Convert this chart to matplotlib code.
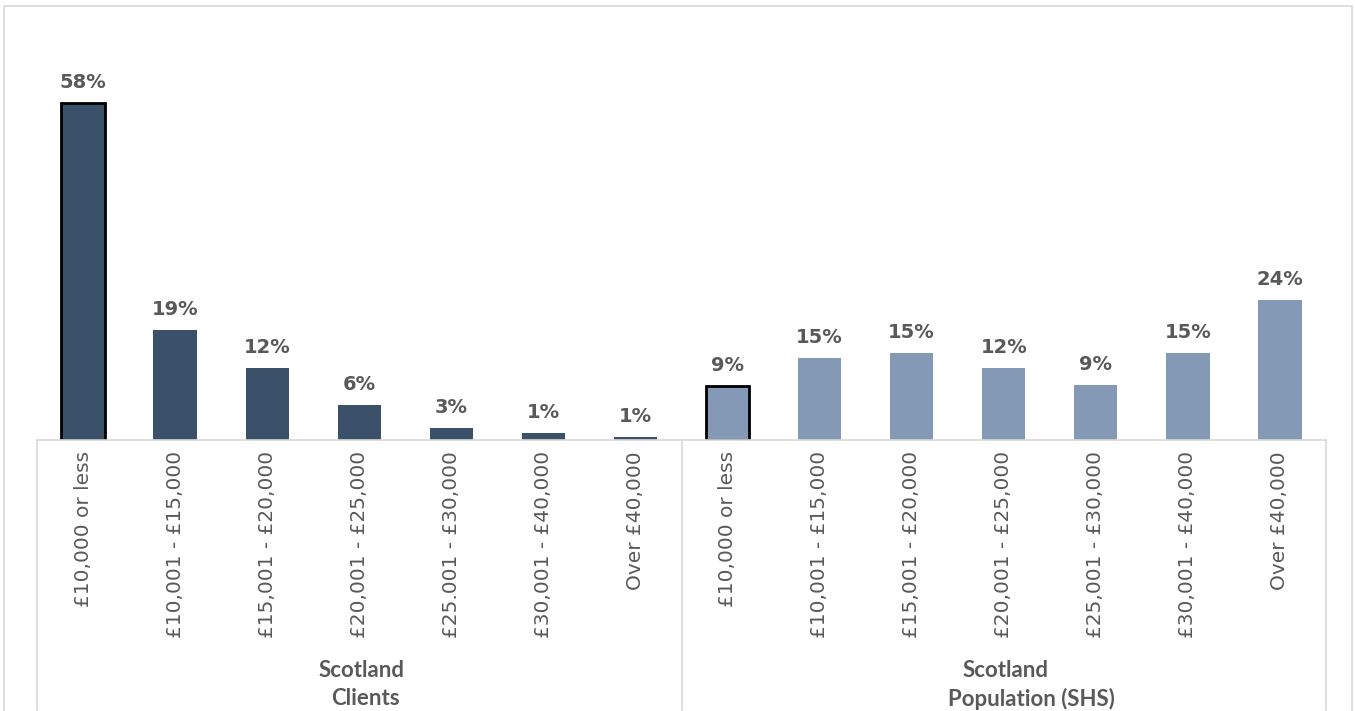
import matplotlib
matplotlib.use("Agg")
import matplotlib.pyplot as plt
from matplotlib.patches import Rectangle
from matplotlib.transforms import offset_copy

# Faixas de renda
faixas = ["£10,000 or less", "£10,001 - £15,000", "£15,001 - £20,000",
          "£20,001 - £25,000", "£25.001 - £30,000", "£30,001 - £40,000",
          "Over £40,000"]
faixas_pop = ["£10,000 or less", "£10,001 - £15,000", "£15,001 - £20,000",
              "£20,001 - £25,000", "£25,001 - £30,000", "£30,001 - £40,000",
              "Over £40,000"]

# Valores (%)
clientes = [58, 18.9, 12.4, 6.0, 2.1, 1.2, 0.5]
populacao = [9.3, 14.1, 15.0, 12.4, 9.5, 15.0, 24.1]
rotulos_clientes = ["58%", "19%", "12%", "6%", "3%", "1%", "1%"]
rotulos_populacao = ["9%", "15%", "15%", "12%", "9%", "15%", "24%"]
grupos = [("Scotland", "Clients"), ("Scotland", "Population (SHS)")]

COR_ESCURA = "#3b5069"
COR_CLARA = "#8399b6"
COR_TEXTO = "#595959"
FONTE = ["Lato", "DejaVu Sans"]
FONTE_EIXO = ["DejaVu Sans"]

W, H = 1355, 711
fig = plt.figure(figsize=(W / 100, H / 100), dpi=100)

# borda cinza clara do gráfico
fig.patches.append(Rectangle((4 / W, -0.01), 1348 / W, 1 - 6 / H + 0.01,
                             transform=fig.transFigure, fill=False,
                             edgecolor="#d9d9d9", linewidth=1.2))

base_y = 440
top_y = 62
ax = fig.add_axes([37 / W, 1 - base_y / H, (1326 - 37) / W, (base_y - top_y) / H])

n = len(faixas)
valores = clientes + populacao
rotulos = rotulos_clientes + rotulos_populacao
cores = [COR_ESCURA] * n + [COR_CLARA] * n
xs = list(range(2 * n))

barras = ax.bar(xs, valores, width=0.47, color=cores, zorder=2)
for i in (0, n):
    barras[i].set_edgecolor("black")
    barras[i].set_linewidth(2)

for x, v, r in zip(xs, valores, rotulos):
    ax.text(x, v + 1.9, r, ha="center", va="bottom", fontsize=14,
            fontweight="bold", color=COR_TEXTO, family=FONTE_EIXO)

ax.set_xlim(-0.5, 2 * n - 0.5)
ax.set_ylim(0, 65)
ax.set_yticks([])
ax.set_xticks([])
for lado in ["top", "right", "left"]:
    ax.spines[lado].set_visible(False)
ax.spines["bottom"].set_color("#d9d9d9")
ax.spines["bottom"].set_linewidth(1.2)

# rótulos das categorias (rotacionados)
trans = ax.get_xaxis_transform()
px = 1 / (base_y - top_y)
for x, t in zip(xs, faixas + faixas_pop):
    ax.text(x, -11 * px, t, rotation=90, ha="center", va="top", fontsize=14.5,
            color=COR_TEXTO, family=FONTE_EIXO, transform=trans, clip_on=False)

# linhas separadoras dos grupos
for xl in (-0.5, n - 0.5, 2 * n - 0.5):
    ax.plot([xl, xl], [0, -270 * px], color="#d9d9d9", lw=1.2,
            transform=trans, clip_on=False)

# nomes dos grupos (duas linhas, a segunda levemente deslocada)
for g, (l1, l2) in enumerate(grupos):
    xc = g * n + (n - 1) / 2
    desloc = [2, 6] if g == 0 else [2, 28]
    for k, (linha, dy) in enumerate(zip((l1, l2), (-231, -259))):
        tr = offset_copy(trans, fig=fig, x=desloc[k], y=0, units="dots")
        ax.text(xc, dy * px, linha, ha="center", va="center", fontsize=16,
                fontweight="bold", color=COR_TEXTO, family=FONTE,
                transform=tr, clip_on=False)

fig.savefig("out.png", dpi=100)
plt.close(fig)
